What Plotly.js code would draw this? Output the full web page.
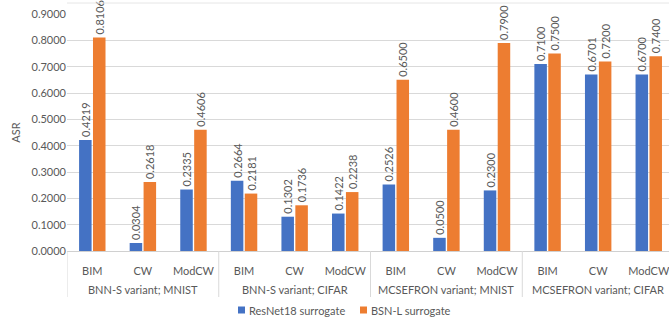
<!DOCTYPE html>
<html><head><meta charset="utf-8">
<script src="https://cdn.plot.ly/plotly-3.0.1.min.js"></script>
<style>html,body{margin:0;padding:0;background:#fff;}#chart{width:669px;height:320px;}</style>
</head><body><div id="chart"></div>
<script>
const groups = ["BNN-S variant; MNIST","BNN-S variant; CIFAR","MCSEFRON variant; MNIST","MCSEFRON variant; CIFAR"];
const attacks = ["BIM","CW","ModCW"];
const seriesNames = ["ResNet18 surrogate","BSN-L surrogate"];
const resnet18 = [0.4219,0.0304,0.2335, 0.2664,0.1302,0.1422, 0.2526,0.0500,0.2300, 0.7100,0.6701,0.6700];
const bsnl = [0.8106,0.2618,0.4606, 0.2181,0.1736,0.2238, 0.6500,0.4600,0.7900, 0.7500,0.7200,0.7400];
const yTicks = [0,0.1,0.2,0.3,0.4,0.5,0.6,0.7,0.8,0.9];
const colors = ["#4472C4","#ED7D31"];

const cats = [], catText = [];
groups.forEach(g => attacks.forEach(a => { cats.push(g + " | " + a); catText.push(a); }));

const font = {family: "Lato, 'Open Sans', sans-serif", size: 11, color: "#595959"};
function tr(name, vals, color){
  return {type:'bar', name:name, x:cats, y:vals, marker:{color:color}, showlegend:false,
    texttemplate:'%{y:.4f}', textposition:'outside', textangle:-90, constraintext:'none',
    cliponaxis:false, textfont:font, hoverinfo:'skip'};
}
const data = [tr(seriesNames[0], resnet18, colors[0]), tr(seriesNames[1], bsnl, colors[1])];

const M = {l:67, r:0, t:14, b:69};
const plotW = 669 - M.l - M.r, plotH = 320 - M.t - M.b;
const px = v => (v - M.l) / plotW;          // pixel x -> paper x
const py = v => (320 - M.b - v) / plotH;    // pixel y -> paper y

const annotations = groups.map((g, i) => ({
  xref:'x', yref:'paper', x: i*attacks.length + (attacks.length-1)/2, y: py(289),
  yanchor:'middle', xanchor:'center', text:g, showarrow:false, font:font
}));
const shapes = [{type:'line', xref:'paper', yref:'paper', x0:0, x1:1, y0:py(3), y1:py(3), line:{color:'#E6E6E6', width:1}}];
for (let i = 0; i < groups.length; i++) {
  const xv = i*attacks.length - 0.5;
  shapes.push({type:'line', xref:'x', yref:'paper', x0:xv, x1:xv, y0:0, y1:py(297), line:{color:'#D9D9D9', width:1}});
}
// legend (manual, to match the small square keys)
const legX = [238, 360];
seriesNames.forEach((n, i) => {
  shapes.push({type:'rect', xref:'paper', yref:'paper', x0:px(legX[i]), x1:px(legX[i]+7), y0:py(313.5), y1:py(306.5),
    fillcolor:colors[i], line:{width:0}});
  annotations.push({xref:'paper', yref:'paper', x:px(legX[i]+9), y:py(310), xanchor:'left', yanchor:'middle',
    text:n, showarrow:false, font:font});
});

const layout = {
  width:669, height:320, margin:{l:M.l, r:M.r, t:M.t, b:M.b, autoexpand:false},
  paper_bgcolor:'#fff', plot_bgcolor:'#fff', font:font,
  barmode:'group', bargap:0.45, bargroupgap:0.1,
  showlegend:false,
  xaxis:{type:'category', range:[-0.5, 11.4], tickvals:cats, ticktext:catText, showline:true, linecolor:'#D0D0D0', linewidth:1,
    tickfont:font, ticks:'', ticklabelstandoff:10, showgrid:false, zeroline:false},
  yaxis:{range:[0,0.9], tickvals:yTicks, tickformat:'.4f', tickfont:font, gridcolor:'#D9D9D9', gridwidth:1,
    zeroline:false, showline:false, ticks:'', title:{text:'ASR', font:font, standoff:8}},
  annotations:annotations,
  shapes:shapes
};
Plotly.newPlot('chart', data, layout, {staticPlot:true});
</script></body></html>
